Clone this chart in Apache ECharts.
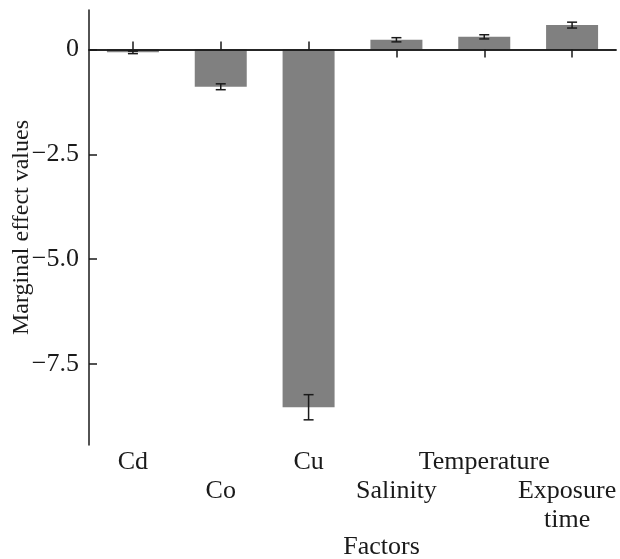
<!DOCTYPE html>
<html>
<head>
<meta charset="utf-8">
<script src="https://cdn.jsdelivr.net/npm/echarts@6/dist/echarts.min.js"></script>
<style>
  html, body { margin: 0; padding: 0; background: #fff; }
  #main { width: 620px; height: 559px; }
</style>
</head>
<body>
<div id="main"></div>
<script>
// factors on the x axis
const categories = ['Cd', 'Co', 'Cu', 'Salinity', 'Temperature', 'Exposure\ntime']
// marginal effect of each factor
const values = [-0.07, -0.89, -8.53, 0.23, 0.30, 0.58]
// half length of each error bar
const errors = [0.03, 0.07, 0.30, 0.05, 0.05, 0.07]
// y ticks and what they read
const yTicks = [0, -2.5, -5, -7.5]
const yTickLabels = ['0', '\u22122.5', '\u22125.0', '\u22127.5']

const font = 'Liberation Serif'
const ink = '#1a1a1a'

const myChart = echarts.init(document.getElementById('main'))

// error bars: [index, low, high]
const errData = values.map((v, i) => [i, v - errors[i], v + errors[i]])

// the zero line axes, ticks go away from the bar
const zeroAxis = (inside) => ({
  type: 'category',
  data: categories,
  position: 'bottom',
  z: 5,
  axisLine: { show: true, onZero: true, onZeroAxisIndex: 0, lineStyle: { color: ink, width: 1.5 } },
  axisTick: {
    show: true,
    inside: inside,
    length: 8,
    alignWithLabel: true,
    lineStyle: { color: ink, width: 1.5 },
    interval: (index) => inside ? values[index] < 0 : values[index] >= 0
  },
  axisLabel: { show: false },
  splitLine: { show: false }
})

const option = {
  animation: false,
  grid: { left: 89, right: 4, top: 10, bottom: 114, containLabel: false, outerBoundsMode: 'none' },
  xAxis: [
    {
      // labels only, at the bottom of the plot
      type: 'category',
      data: categories,
      position: 'bottom',
      name: 'Factors',
      nameLocation: 'middle',
      nameGap: 89,
      nameMoveOverlap: false,
      nameTextStyle: { fontFamily: font, fontSize: 26, color: ink, padding: [0, 0, 0, 58] },
      axisLine: { show: false, onZero: false },
      axisTick: { show: false },
      axisLabel: {
        interval: 0,
        margin: 3,
        fontFamily: font,
        fontSize: 26,
        lineHeight: 29,
        color: ink,
        formatter: (val, idx) => {
          // the last label sits a little left of its tick
          const text = idx === categories.length - 1
            ? val.split('\n').map(s => '{e|' + s + '}').join('\n')
            : val
          return (idx % 2 === 1 ? '\n' : '') + text
        },
        rich: {
          e: { fontFamily: font, fontSize: 26, lineHeight: 29, color: ink, padding: [0, 10, 0, 0] }
        }
      }
    },
    zeroAxis(false),
    zeroAxis(true)
  ],
  yAxis: {
    type: 'value',
    min: -9.43,
    max: 0.94,
    name: 'Marginal effect values',
    nameLocation: 'middle',
    nameGap: 55,
    nameMoveOverlap: false,
    nameTextStyle: { fontFamily: font, fontSize: 24, color: ink },
    axisLine: { show: true, lineStyle: { color: ink, width: 1.5 } },
    axisTick: { show: true, inside: true, length: 8, customValues: yTicks, lineStyle: { color: ink, width: 1.5 } },
    axisLabel: {
      customValues: yTicks,
      margin: 10,
      fontFamily: font,
      fontSize: 26,
      color: ink,
      formatter: (v) => yTickLabels[yTicks.indexOf(v)] ?? ''
    },
    splitLine: { show: false }
  },
  series: [
    {
      type: 'bar',
      xAxisIndex: 0,
      data: values,
      barWidth: 52,
      itemStyle: { color: '#808080' }
    },
    {
      type: 'custom',
      xAxisIndex: 0,
      z: 6,
      data: errData,
      renderItem: (params, api) => {
        const x = api.value(0)
        const lo = api.coord([x, api.value(1)])
        const hi = api.coord([x, api.value(2)])
        const cap = 5
        const style = { stroke: ink, lineWidth: 1.5 }
        return {
          type: 'group',
          children: [
            { type: 'line', shape: { x1: lo[0], y1: lo[1], x2: hi[0], y2: hi[1] }, style },
            { type: 'line', shape: { x1: lo[0] - cap, y1: lo[1], x2: lo[0] + cap, y2: lo[1] }, style },
            { type: 'line', shape: { x1: hi[0] - cap, y1: hi[1], x2: hi[0] + cap, y2: hi[1] }, style }
          ]
        }
      }
    }
  ]
}

myChart.setOption(option)
</script>
</body>
</html>
